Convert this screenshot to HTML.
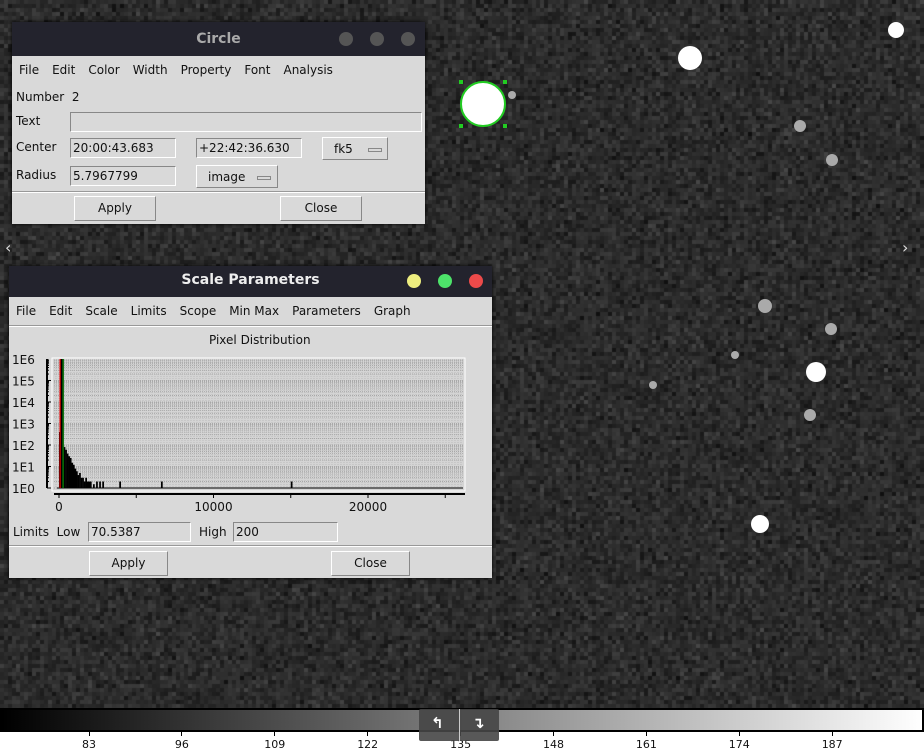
<!DOCTYPE html>
<html><head><meta charset="utf-8">
<style>
*{margin:0;padding:0;box-sizing:border-box}
body{width:924px;height:753px;overflow:hidden;background:#2b2b2b;font-family:"DejaVu Sans","Liberation Sans",sans-serif;font-size:12px;color:#111;position:relative}
#bg{position:absolute;left:0;top:0}
.win{position:absolute;background:#d9d9d9;box-shadow:0 0 4px #000}
.title{background:#23232d;color:#ddd;font-weight:bold;font-size:14px;text-align:center;position:relative}
.dot{position:absolute;width:14px;height:14px;border-radius:50%}
.menu span{margin-right:13px}
.field{position:absolute;background:#d9d9d9;border:1px solid #888;border-right-color:#fff;border-bottom-color:#fff;padding-left:2px;line-height:18px;font-size:12px;white-space:nowrap}
.btn{position:absolute;border:1px solid #888;border-left-color:#fff;border-top-color:#fff;text-align:center;line-height:22px;font-size:12px;white-space:nowrap}
.lbl{position:absolute;white-space:nowrap}
.sep{position:absolute;left:0;right:0;border-top:1px solid #999;border-bottom:1px solid #fff}
.mb{display:inline-block;width:14px;height:4px;border:1px solid #888;vertical-align:middle}
</style></head><body>
<canvas id="bg" width="924" height="753"></canvas>
<svg id="stars" width="924" height="710" style="position:absolute;left:0;top:0"></svg>
<div style="position:absolute;left:5px;top:238px;color:#ddd;font-size:16px">‹</div>
<div style="position:absolute;left:902px;top:238px;color:#ddd;font-size:16px">›</div>

<div class="win" style="left:12px;top:22px;width:413px;height:202px">
 <div class="title" style="height:34px;line-height:34px;color:#aaa">Circle
  <div class="dot" style="left:327px;top:10px;background:#555"></div><div class="dot" style="left:358px;top:10px;background:#555"></div><div class="dot" style="left:389px;top:10px;background:#555"></div></div>
 <div class="menu" style="position:absolute;left:7px;top:41px"><span>File</span><span>Edit</span><span>Color</span><span>Width</span><span>Property</span><span>Font</span><span>Analysis</span></div>
 <div class="lbl" style="left:4px;top:68px">Number&nbsp; 2</div>
 <div class="lbl" style="left:4px;top:92px">Text</div>
 <div class="field" style="left:58px;top:90px;width:352px;height:20px"></div>
 <div class="lbl" style="left:4px;top:118px">Center</div>
 <div class="field" style="left:58px;top:116px;width:106px;height:20px">20:00:43.683</div>
 <div class="field" style="left:184px;top:116px;width:106px;height:20px">+22:42:36.630</div>
 <div class="btn" style="left:310px;top:115px;width:66px;height:23px;text-align:left;padding-left:11px">fk5&nbsp;&nbsp;&nbsp;&nbsp;<span class="mb"></span></div>
 <div class="lbl" style="left:4px;top:146px">Radius</div>
 <div class="field" style="left:58px;top:144px;width:106px;height:20px">5.7967799</div>
 <div class="btn" style="left:184px;top:143px;width:82px;height:23px;text-align:left;padding-left:11px">image&nbsp;&nbsp;&nbsp;<span class="mb"></span></div>
 <div class="sep" style="top:169px"></div>
 <div class="btn" style="left:62px;top:174px;width:82px;height:25px">Apply</div>
 <div class="btn" style="left:268px;top:174px;width:82px;height:25px">Close</div>
</div>

<div class="win" style="left:9px;top:266px;width:483px;height:312px">
 <div class="title" style="height:31px;line-height:29px;color:#eee">Scale Parameters
  <div class="dot" style="left:398px;top:8px;background:#eded7f"></div><div class="dot" style="left:429px;top:8px;background:#4de36a"></div><div class="dot" style="left:460px;top:8px;background:#ec4a4a"></div></div>
 <div class="menu" style="position:absolute;left:7px;top:38px"><span>File</span><span>Edit</span><span>Scale</span><span>Limits</span><span>Scope</span><span>Min Max</span><span>Parameters</span><span>Graph</span></div>
 <div class="sep" style="top:59px"></div>
 <div class="lbl" style="left:200px;top:67px">Pixel Distribution</div>
 <svg id="hist" width="483" height="170" style="position:absolute;left:0;top:84px"></svg>
 <div class="lbl" style="left:4px;top:259px">Limits&nbsp; Low</div>
 <div class="field" style="left:79px;top:256px;width:103px;height:20px">70.5387</div>
 <div class="lbl" style="left:190px;top:259px">High</div>
 <div class="field" style="left:224px;top:256px;width:105px;height:20px">200</div>
 <div class="sep" style="top:279px"></div>
 <div class="btn" style="left:80px;top:285px;width:79px;height:25px">Apply</div>
 <div class="btn" style="left:322px;top:285px;width:79px;height:25px">Close</div>
</div>

<div style="position:absolute;left:0;top:708px;width:924px;height:24px;border:2px solid #000;background:linear-gradient(to right,#000,#fff)"></div>
<div id="cbax" style="position:absolute;left:0;top:732px;width:924px;height:21px;background:#fff;font-size:12px"></div>
<div style="position:absolute;left:419px;top:709px;width:80px;height:32px;background:rgba(70,70,70,.9);border-radius:2px;color:#fff;font-size:15px;font-weight:bold">
 <span style="position:absolute;left:12px;top:5px">↰</span>
 <span style="position:absolute;left:40px;top:0;width:1px;height:32px;background:#ccc"></span>
 <span style="position:absolute;left:53px;top:5px">↴</span>
</div>

<script>
(function(){const c=document.getElementById('bg').getContext('2d');let s=12345;function r(){s=(s*1103515245+12345)&0x7fffffff;return s/0x7fffffff;}
for(let y=0;y<710;y+=4)for(let x=0;x<924;x+=4){let v=14+Math.floor((r()+r()+r())*20);c.fillStyle='rgb('+v+','+v+','+v+')';c.fillRect(x,y,4,4);}})();
const starX=[483,690,896,800,832,765,831,816,810,735,760,653,512];
const starY=[104,58,30,126,160,306,329,372,415,355,524,385,95];
const starR=[22,12,8,6,6,7,6,10,6,4,9,4,4];
(function(){const svg=document.getElementById('stars');const ns='http://www.w3.org/2000/svg';
for(let i=0;i<starX.length;i++){const g=document.createElementNS(ns,'circle');g.setAttribute('cx',starX[i]);g.setAttribute('cy',starY[i]);g.setAttribute('r',starR[i]);g.setAttribute('fill',starR[i]>7?'#fff':'#aaa');

svg.appendChild(g);}
const reg=document.createElementNS(ns,'circle');reg.setAttribute('cx',483);reg.setAttribute('cy',104);reg.setAttribute('r',22);reg.setAttribute('fill','none');reg.setAttribute('stroke','#2c2');reg.setAttribute('stroke-width','2');

svg.appendChild(reg);
[[461,82],[505,82],[461,126],[505,126]].forEach(p=>{const h=document.createElementNS(ns,'rect');h.setAttribute('x',p[0]-2);h.setAttribute('y',p[1]-2);h.setAttribute('width',4);h.setAttribute('height',4);h.setAttribute('fill','#2c2');

svg.appendChild(h);});})();

const binStart=[0,100,200,300,400,500,600,700,800,900,1000,1100,1200,1300,1400,1500,1600,1700,1800,1900,2000,2200,2400,2600,2800,3900,6600,15000];
const binCount=[400,1000000,1000000,80,60,40,30,25,15,12,8,6,4,5,3,3,2,3,2,2,2,1.5,2,2,2,2,2,2];
const xTicks=[0,10000,20000];
const yTickLabels=['1E0','1E1','1E2','1E3','1E4','1E5','1E6'];
const lowLimit=70.5387, highLimit=200;
(function(){const svg=document.getElementById('hist');const ns='http://www.w3.org/2000/svg';
const X0=43,X1=456,Y0=8,Y1=141;
const xs=v=>50+v*0.01545; const B=138,T=9; const ys=c=>B-Math.log10(Math.max(c,1))*((B-T)/6);
function el(t,a,name){const e=document.createElementNS(ns,t);for(const k in a)e.setAttribute(k,a[k]);

svg.appendChild(e);return e;}
el('rect',{x:X0,y:Y0,width:X1-X0,height:Y1-Y0,fill:'#d4d4d4',stroke:'#fff'},'plot-area');
for(let d=0;d<6;d++)for(let m=1;m<10;m++){const y=ys(m*Math.pow(10,d));el('line',{x1:X0+2,x2:X1-2,y1:y,y2:y,stroke:'#999','stroke-dasharray':'1,1','stroke-width':0.7},'grid-line');}
for(let x=X0+4;x<X1-2;x+=3)el('line',{x1:x,x2:x,y1:Y0+2,y2:B,stroke:'#aaa','stroke-dasharray':'1,1','stroke-width':0.6},'grid-line');
for(let i=0;i<binStart.length;i++){const x=xs(binStart[i]);const y=ys(binCount[i]);const w=Math.max(1.5,100*0.01545+0.2);el('rect',{x:x,y:y,width:w,height:B-y,fill:'#000'},'histogram-bar');}
el('line',{x1:xs(0)-2,x2:X1-2,y1:B,y2:B,stroke:'#000'},'baseline');
el('line',{x1:xs(lowLimit),x2:xs(lowLimit),y1:T,y2:B,stroke:'#e00','stroke-width':1.2},'low-limit-line');
el('line',{x1:xs(highLimit)+1,x2:xs(highLimit)+1,y1:T,y2:B,stroke:'#080','stroke-width':1.2},'high-limit-line');
el('line',{x1:38,x2:38,y1:T,y2:B,stroke:'#000','stroke-width':2},'y-axis');
for(let d=0;d<6;d++)for(let m=1;m<10;m++){const y=ys(m*Math.pow(10,d));el('line',{x1:38,x2:m==1?42:40,y1:y,y2:y,stroke:'#000','stroke-width':1},'y-tick');}
yTickLabels.forEach((l,i)=>{const t=el('text',{x:3,y:ys(Math.pow(10,i))+5,'font-size':12,fill:'#111','font-family':'DejaVu Sans'},'y-tick-label');t.textContent=l;});
el('line',{x1:45,x2:456,y1:144,y2:144,stroke:'#000','stroke-width':2},'x-axis');
for(let v=0;v<=25000;v+=5000)el('line',{x1:xs(v),x2:xs(v),y1:144,y2:148,stroke:'#000'},'x-tick');
xTicks.forEach(v=>{const t=el('text',{x:xs(v),y:161,'font-size':12,'text-anchor':'middle',fill:'#111','font-family':'DejaVu Sans'},'x-tick-label');t.textContent=v;});
})();
const cbLabels=[83,96,109,122,135,148,161,174,187];
(function(){const ax=document.getElementById('cbax');cbLabels.forEach((v,i)=>{const x=89+(v-83)/13*92.9;
const t=document.createElement('div');t.style.cssText='position:absolute;left:'+(x-0.5)+'px;top:0;width:1px;height:4px;background:#000';

ax.appendChild(t);
const l=document.createElement('div');l.textContent=v;l.style.cssText='position:absolute;left:'+(x-20)+'px;width:40px;text-align:center;top:6px;font-size:11px';

ax.appendChild(l);});})();
</script>
</body></html>
